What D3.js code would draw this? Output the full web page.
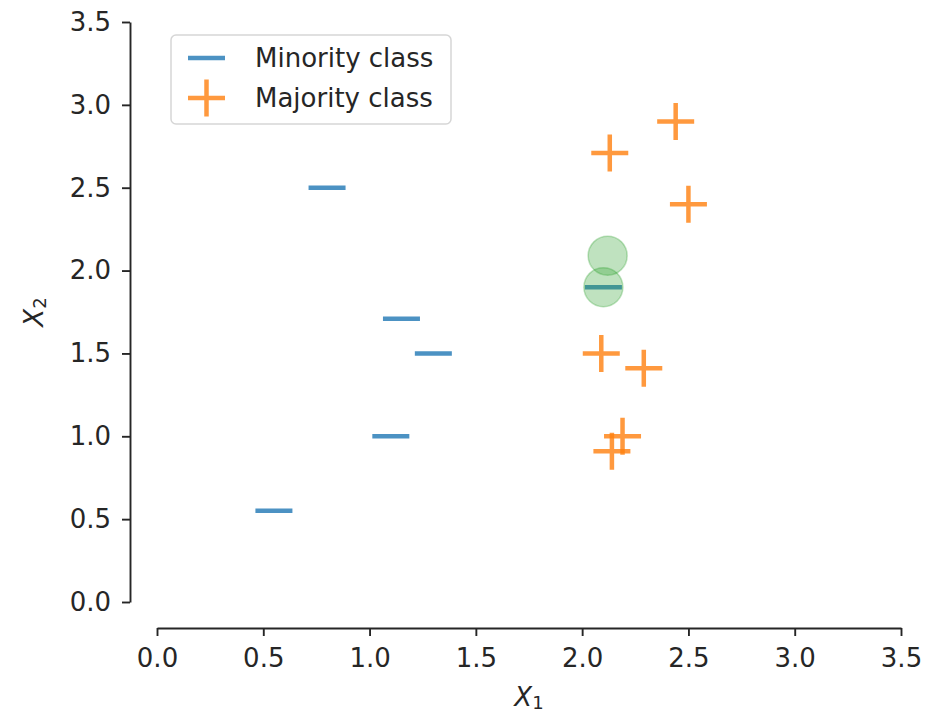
<!DOCTYPE html>
<html>
<head>
<meta charset="utf-8">
<script src="https://cdn.jsdelivr.net/npm/d3@7"></script>
<style>
  body { margin: 0; background: #fff; }
  text { font-family: "DejaVu Sans", sans-serif; fill: #262626; }
</style>
</head>
<body>
<div id="chart"></div>
<script>

// minority class points (blue '_')
var minorityX = [0.8, 1.15, 1.3, 1.1, 0.55, 2.1];
var minorityY = [2.5, 1.71, 1.5, 1.0, 0.55, 1.9];

// majority class points (orange '+')
var majorityX = [2.44, 2.13, 2.5, 2.09, 2.29, 2.19, 2.14];
var majorityY = [2.9, 2.71, 2.4, 1.5, 1.41, 1.0, 0.91];

// highlighted points (green circles)
var highlightX = [2.12, 2.1];
var highlightY = [2.09, 1.9];

var tickValues = [0.0, 0.5, 1.0, 1.5, 2.0, 2.5, 3.0, 3.5];
var legendLabels = ["Minority class", "Majority class"];

var W = 935, H = 715;
var fs = 26;
var blue = "#1f77b4", orange = "#ff7f0e", green = "#2ca02c";

var svg = d3.select("#chart").append("svg")
    .attr("width", W)
    .attr("height", H);

var x = d3.scaleLinear().domain([0, 3.5]).range([157, 901]);
var y = d3.scaleLinear().domain([0, 3.5]).range([602, 22]);

/* axes, detached spines like seaborn despine(offset) */
var xAxis = d3.axisBottom(x).tickValues(tickValues)
    .tickFormat(d3.format(".1f")).tickSize(8).tickPadding(13).tickSizeOuter(0);
var yAxis = d3.axisLeft(y).tickValues(tickValues)
    .tickFormat(d3.format(".1f")).tickSize(8).tickPadding(11).tickSizeOuter(0);

var gx = svg.append("g").attr("transform", "translate(0,628)").call(xAxis);
var gy = svg.append("g").attr("transform", "translate(130,0)").call(yAxis);

[gx, gy].forEach(function(g) {
  g.select(".domain").attr("stroke", "#262626").attr("stroke-width", 1.9);
  g.selectAll(".tick line").attr("stroke", "#262626").attr("stroke-width", 1.9);
  g.selectAll(".tick text")
    .style("font-family", "DejaVu Sans, sans-serif")
    .style("font-size", fs + "px")
    .attr("fill", "#262626");
});

var half = 18.5;

// minority markers
var minority = minorityX.map(function(d, i) { return [d, minorityY[i]]; });
svg.selectAll("line.minority")
   .data(minority)
   .enter()
   .append("line")
   .attr("class", "minority")
   .attr("x1", function(d) { return x(d[0]) - half; })
   .attr("x2", function(d) { return x(d[0]) + half; })
   .attr("y1", function(d) { return y(d[1]); })
   .attr("y2", function(d) { return y(d[1]); })
   .attr("stroke", blue)
   .attr("stroke-opacity", 0.8)
   .attr("stroke-width", 4.5);

// majority markers
var majority = majorityX.map(function(d, i) { return [d, majorityY[i]]; });
svg.selectAll("path.majority")
   .data(majority)
   .enter()
   .append("path")
   .attr("class", "majority")
   .attr("d", function(d) {
     var cx = x(d[0]), cy = y(d[1]);
     return "M" + (cx - half) + "," + cy + "H" + (cx + half) +
            "M" + cx + "," + (cy - half) + "V" + (cy + half);
   })
   .attr("fill", "none")
   .attr("stroke", orange)
   .attr("stroke-opacity", 0.8)
   .attr("stroke-width", 4.5);

// highlighted circles
var highlight = highlightX.map(function(d, i) { return [d, highlightY[i]]; });
svg.selectAll("circle")
   .data(highlight)
   .enter()
   .append("circle")
   .attr("cx", function(d) { return x(d[0]); })
   .attr("cy", function(d) { return y(d[1]); })
   .attr("r", 19.5)
   .attr("fill", green)
   .attr("fill-opacity", 0.3)
   .attr("stroke", green)
   .attr("stroke-opacity", 0.3)
   .attr("stroke-width", 1.5);

/* legend */
var legend = svg.append("g");
legend.append("rect")
   .attr("x", 171).attr("y", 35)
   .attr("width", 280).attr("height", 89)
   .attr("rx", 5)
   .attr("fill", "#fff").attr("fill-opacity", 0.8)
   .attr("stroke", "#d6d6d6").attr("stroke-width", 1.5);

legendLabels.forEach(function(label, i) {
  var ly = 58 + i * 40;
  if (i == 0) {
    legend.append("line")
      .attr("x1", 188).attr("x2", 225).attr("y1", ly).attr("y2", ly)
      .attr("stroke", blue).attr("stroke-opacity", 0.8).attr("stroke-width", 4.5);
  } else {
    legend.append("path")
      .attr("d", "M188," + ly + "H225M206.5," + (ly - half) + "V" + (ly + half))
      .attr("stroke", orange).attr("stroke-opacity", 0.8).attr("stroke-width", 4.5);
  }
  legend.append("text")
    .attr("x", 255).attr("y", ly + 9)
    .style("font-size", fs + "px")
    .text(label);
});

/* axis labels */
var xl = svg.append("text")
   .attr("x", 529).attr("y", 706)
   .attr("text-anchor", "middle")
   .style("font-size", fs + "px");
xl.append("tspan").style("font-style", "italic").text("X");
xl.append("tspan").attr("dy", 3).style("font-size", "18px").text("1");

var yl = svg.append("text")
   .attr("transform", "translate(43,312) rotate(-90)")
   .attr("text-anchor", "middle")
   .style("font-size", fs + "px");
yl.append("tspan").style("font-style", "italic").text("X");
yl.append("tspan").attr("dy", 3).style("font-size", "18px").text("2");

</script>
</body>
</html>
